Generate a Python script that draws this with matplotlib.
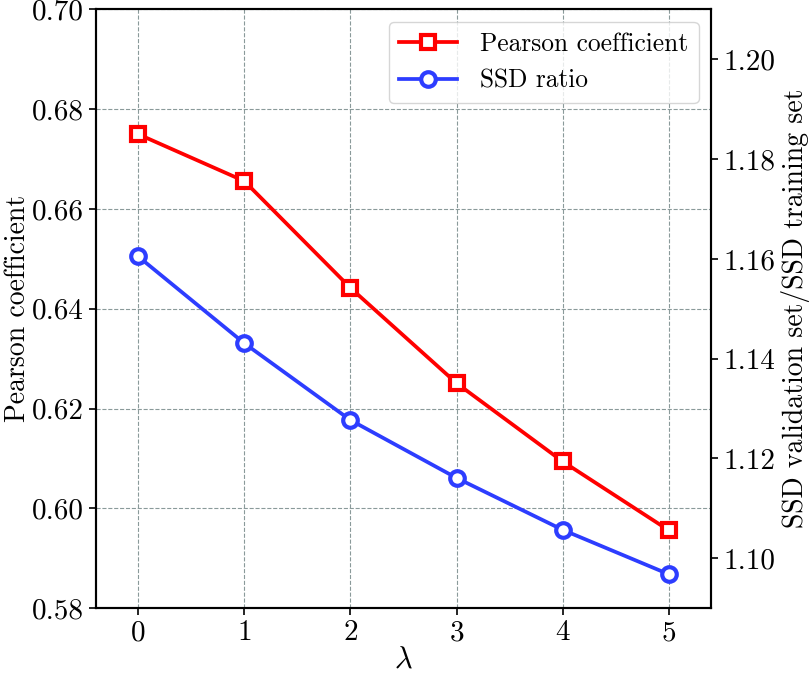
import numpy as np
import matplotlib
matplotlib.use('Agg')
import matplotlib.pyplot as plt
from matplotlib.ticker import FormatStrFormatter

plt.rcParams['font.family'] = 'serif'
plt.rcParams['font.serif'] = ['cmr10']
plt.rcParams['mathtext.fontset'] = 'cm'
plt.rcParams['axes.formatter.use_mathtext'] = True
plt.rcParams['font.size'] = 21

# Data
lam = [0, 1, 2, 3, 4, 5]
pearson = [0.6750, 0.6656, 0.6442, 0.6251, 0.6094, 0.5956]
ssd_ratio = [1.1605, 1.1431, 1.1277, 1.1161, 1.1057, 1.0968]

fig, ax1 = plt.subplots(figsize=(8.11, 6.75), dpi=100)
fig.subplots_adjust(left=0.118, right=0.877, top=0.986, bottom=0.099)
ax2 = ax1.twinx()

# Pearson goes on the left scale, drawn on ax2 so both lines sit above the grid
l1, = ax2.plot(lam, pearson, color='#ff0000', lw=2.7, marker='s', ms=10,
               mew=3, mfc='white', label='Pearson coefficient',
               transform=ax1.transData)
l2, = ax2.plot(lam, ssd_ratio, color='#2d3dff', lw=2.7, marker='o', ms=10.5,
               mew=3, mfc='white', label='SSD ratio')

ax1.set_xlim(-0.4, 5.4)
ax1.set_ylim(0.58, 0.70)
ax2.set_ylim(1.09, 1.21)
ax1.set_xticks(lam)
ax1.set_yticks(np.arange(0.58, 0.7001, 0.02))
ax2.set_yticks(np.arange(1.10, 1.2001, 0.02))
ax1.yaxis.set_major_formatter(FormatStrFormatter('%.2f'))
ax2.yaxis.set_major_formatter(FormatStrFormatter('%.2f'))

ax1.grid(True, color='#8a9a9a', ls='--', lw=0.8)
ax1.set_xlabel(r'$\lambda$', labelpad=0, fontsize=22)
ax1.set_ylabel('Pearson coefficient', labelpad=1, fontsize=20)
ax2.set_ylabel('SSD validation set/SSD training set', labelpad=4, fontsize=20)

for ax in (ax1, ax2):
    ax.tick_params(direction='out', length=5, width=1.2)
    for s in ax.spines.values():
        s.set_linewidth(1.5)

ax2.legend(handles=[l1, l2], loc='upper right', fontsize=18.3,
           handlelength=2.3, handletextpad=0.9,
           framealpha=0.8, edgecolor='#cccccc', fancybox=True)

fig.savefig('out.png', dpi=100)
